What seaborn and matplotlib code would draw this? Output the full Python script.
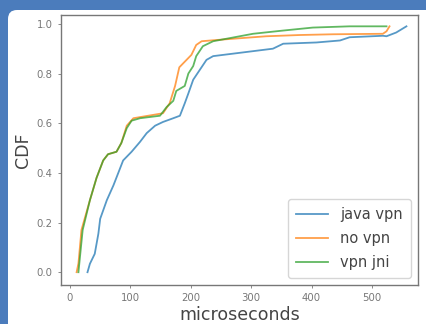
# CDF of packet latency for the three vpn setups

import pandas as pd
import matplotlib.pyplot as plt
import seaborn as sns
from matplotlib.patches import FancyBboxPatch

# %%
# points (microseconds, cumulative fraction)
java_us = [29, 33, 41, 47, 50, 61, 72, 88, 102, 116, 127, 141, 154, 171, 182, 190,
           196, 204, 215, 226, 237, 270, 303, 336, 353, 408, 447, 463, 518, 524, 540, 557]
java_cdf = [0.0, 0.034, 0.074, 0.155, 0.215, 0.29, 0.35, 0.45, 0.485, 0.525, 0.56, 0.59,
            0.605, 0.62, 0.63, 0.68, 0.72, 0.775, 0.815, 0.855, 0.87, 0.88, 0.89, 0.90,
            0.92, 0.925, 0.933, 0.946, 0.952, 0.95, 0.965, 0.99]

novpn_us = [11, 14, 19, 33, 44, 55, 63, 77, 85, 94, 105, 154, 165, 174, 181, 193, 201,
            209, 218, 243, 270, 325, 380, 435, 518, 524, 529]
novpn_cdf = [0.0, 0.035, 0.17, 0.29, 0.38, 0.45, 0.475, 0.485, 0.52, 0.59, 0.62, 0.64,
             0.68, 0.75, 0.825, 0.855, 0.875, 0.915, 0.93, 0.935, 0.94, 0.95, 0.955,
             0.958, 0.96, 0.97, 0.99]

jni_us = [14, 21, 33, 44, 55, 63, 77, 85, 94, 102, 116, 149, 160, 171, 176, 190, 196,
          204, 209, 220, 237, 270, 303, 353, 402, 463, 524]
jni_cdf = [0.0, 0.17, 0.29, 0.38, 0.45, 0.475, 0.485, 0.52, 0.58, 0.61, 0.62, 0.63,
           0.665, 0.69, 0.73, 0.75, 0.80, 0.83, 0.87, 0.91, 0.93, 0.945, 0.96, 0.973,
           0.985, 0.99, 0.99]

frames = []
for name, xs, ys in [("java vpn", java_us, java_cdf),
                     ("no vpn", novpn_us, novpn_cdf),
                     ("vpn jni", jni_us, jni_cdf)]:
    frames.append(pd.DataFrame({"us": xs, "cdf": ys, "setup": name}))
df = pd.concat(frames, ignore_index=True)

# %%
fig = plt.figure(figsize=(4.26, 3.24), dpi=100, facecolor="#4b7cbc")
# white card with a rounded corner on the blue slide
fig.patches.append(FancyBboxPatch((8, -20), 450, 324 - 10 + 20,
                                  boxstyle="round,pad=0,rounding_size=9",
                                  transform=None, facecolor="white",
                                  edgecolor="none", zorder=-5))
ax = fig.add_axes([0.143, 0.12, 0.838, 0.834])
ax.set_zorder(2)
ax.set_facecolor("white")

sns.lineplot(data=df, x="us", y="cdf", hue="setup", sort=False, estimator=None,
             palette=["#1f77b4", "#ff7f0e", "#2ca02c"], linewidth=1.3, alpha=0.75, ax=ax)

ax.set_xlim(-15, 576)
ax.set_ylim(-0.052, 1.036)
ax.set_xticks([0, 100, 200, 300, 400, 500])
ax.set_yticks([0.0, 0.2, 0.4, 0.6, 0.8, 1.0])
ax.tick_params(labelsize=7.3, colors="#777777", length=2.5, width=0.6)
for s in ax.spines.values():
    s.set_color("#777777")
    s.set_linewidth(1.0)

ax.set_xlabel("microseconds", fontsize=12.5, color="#444444", labelpad=2)
ax.set_ylabel("CDF", fontsize=12.5, color="#444444", labelpad=3)
ax.legend(loc="lower right", fontsize=10.5, frameon=True, handlelength=2.2,
          borderpad=0.55, labelspacing=0.6)
for t in ax.get_legend().get_texts():
    t.set_color("#444444")

fig.savefig("out.png", dpi=100, facecolor=fig.get_facecolor())
